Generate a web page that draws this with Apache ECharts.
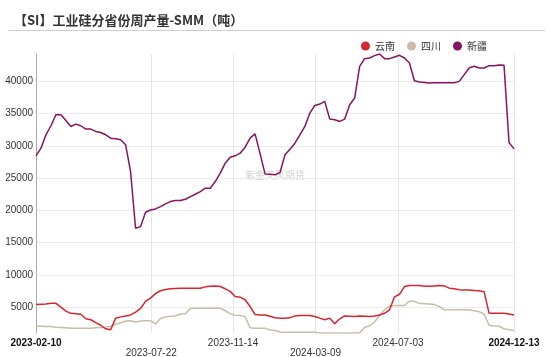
<!DOCTYPE html>
<html>
<head>
<meta charset="utf-8">
<script src="https://cdn.jsdelivr.net/npm/echarts@6/dist/echarts.min.js"></script>
<style>
html,body{margin:0;padding:0;background:#fff;}
#chart{width:550px;height:357px;}
</style>
</head>
<body>
<div id="chart"></div>
<script>
// Weekly data, first week 2023-02-10, last week 2024-12-13 (97 weeks)
var startDate = '2023-02-10';
var weekCount = 97;
var tickLabels = ['2023-02-10','2023-07-22','2023-11-14','2024-03-09','2024-07-03','2024-12-13'];
var seriesNames = ['云南','四川','新疆'];

var yunnan = [5400,5450,5500,5600,5600,5000,4400,4050,4000,3900,
  3200,3050,2600,2200,1650,1500,3300,3500,3650,3800,
  4250,4800,5900,6400,7100,7550,7750,7850,7900,7950,
  7950,7950,7950,7950,8150,8250,8300,8200,7850,7450,
  6650,6550,6150,5100,3850,3800,3800,3600,3350,3300,
  3300,3350,3650,3700,3700,3700,3550,3300,3050,3300,
  2450,3200,3650,3600,3550,3650,3600,3550,3650,3800,
  4050,4600,6600,7000,8200,8350,8350,8350,8250,8250,
  8300,8350,8300,7950,7850,7700,7650,7650,7600,7550,
  7400,4050,4050,4050,4050,3950,3800];

var sichuan = [2100,2050,2000,2000,1900,1850,1800,1750,1750,1750,
  1750,1750,1800,1850,1950,2000,2350,2600,2850,2900,
  2700,2850,2900,2900,2400,3250,3500,3600,3650,3950,
  4000,4800,4850,4850,4850,4850,4850,4850,4450,4000,
  3750,3700,3550,1800,1750,1750,1750,1450,1400,1150,
  1100,1100,1100,1100,1100,1100,1100,1000,1000,1000,
  1000,1000,1000,1000,1000,1000,1900,2100,2700,3700,
  4600,5150,5250,5250,5250,5950,5900,5600,5550,5500,
  5400,5100,4600,4600,4600,4600,4600,4600,4450,4300,
  3900,2200,2100,2050,1650,1500,1400];

var xinjiang = [28460,29650,31720,33120,34820,34820,33940,33010,33370,33120,
  32600,32600,32240,32080,31720,31200,31100,30940,30170,26000,
  17230,17490,19710,20070,20230,20590,21010,21370,21520,21520,
  21730,22140,22500,22920,23440,23440,24470,25770,27320,28250,
  28460,28870,29800,31200,31870,28800,25660,25600,25510,25870,
  28610,29490,30420,31720,33010,35080,36270,36480,36890,34150,
  34050,33790,34150,36380,37410,42330,43520,43620,43990,44240,
  43520,43520,43780,44040,43620,42850,40100,39900,39840,39740,
  39790,39790,39790,39790,39790,40000,41040,42070,42330,42070,
  42070,42430,42430,42540,42480,30530,29540];

var colors = ['#d7262e', '#cbbca8', '#861462'];

function parseDay(s){ var p = s.split('-'); return Date.UTC(+p[0], +p[1]-1, +p[2]); }
function fmtDay(t){
  var d = new Date(t);
  var m = d.getUTCMonth()+1, dd = d.getUTCDate();
  return d.getUTCFullYear() + '-' + (m<10?'0':'') + m + '-' + (dd<10?'0':'') + dd;
}
var t0 = parseDay(startDate);
var dates = [];
for (var i = 0; i < weekCount; i++) dates.push(t0 + i*7*86400000);
var tickValues = tickLabels.map(parseDay);

function pairs(arr){ return arr.map(function(v,i){ return [dates[i], v]; }); }
var allSeries = [yunnan, sichuan, xinjiang];

var chart = echarts.init(document.getElementById('chart'), null, {renderer:'canvas'});
chart.setOption({
  animation: false,
  color: colors,
  textStyle: {fontFamily: 'Liberation Sans, Arial, sans-serif'},
  title: {
    text: '【SI】工业硅分省份周产量-SMM（吨）',
    left: 9, top: 9,
    textStyle: {fontFamily: 'Noto Sans CJK SC', fontSize: 13, fontWeight: 'bold', color: '#333'}
  },
  graphic: [
    {type:'line', shape:{x1:8, y1:30.5, x2:545, y2:30.5}, style:{stroke:'#cfcfcf', lineWidth:1}, silent:true},
    {type:'text', left: 245, top: 170, style:{text:'紫金天风期货', fill:'rgba(160,160,160,0.45)', font:'10px "Noto Sans CJK SC"'}, silent:true, z:0}
  ],
  legend: {
    data: seriesNames,
    right: 58, top: 36,
    icon: 'circle', itemWidth: 9, itemHeight: 9, itemGap: 12,
    textStyle: {fontFamily: 'Noto Sans CJK SC', fontSize: 10, color: '#333'}
  },
  grid: {left: 36, right: 36, top: 54, bottom: 24, containLabel: false, outerBoundsMode: 'none'},
  xAxis: {
    type: 'value',
    min: dates[0], max: dates[dates.length-1],
    axisLine: {show: false},
    axisTick: {show: false, customValues: tickValues},
    splitLine: {show: true, showMinLine: false, lineStyle: {color: '#e6e6e6'}},
    axisLabel: {
      customValues: tickValues,
      hideOverlap: false,
      showMinLabel: true, showMaxLabel: true,
      margin: 5,
      formatter: function(val){
        var s = fmtDay(val);
        var idx = tickValues.indexOf(val);
        if (idx === 0 || idx === tickValues.length-1) return '{b|' + s + '}';
        if (idx % 2 === 1) return '{n|}\n{n|' + s + '}';
        return '{n|' + s + '}';
      },
      rich: {
        b: {fontSize: 10, fontWeight: 'bold', color: '#111', lineHeight: 10, fontFamily: 'Liberation Sans, Arial'},
        n: {fontSize: 10, color: '#333', lineHeight: 10, fontFamily: 'Liberation Sans, Arial'}
      }
    }
  },
  yAxis: {
    type: 'value',
    min: 'dataMin', max: 'dataMax',
    splitNumber: 8,
    axisLine: {show: true, lineStyle: {color: '#aaa'}},
    axisTick: {show: false},
    splitLine: {show: true, showMinLine: false, showMaxLine: false, lineStyle: {color: '#ececec'}},
    axisLabel: {
      showMinLabel: false, showMaxLabel: false, margin: 3, fontSize: 10, color: '#333',
      formatter: function(v){ return String(v); }
    }
  },
  series: seriesNames.map(function(n, k){
    return {
      name: n, type: 'line', data: pairs(allSeries[k]),
      showSymbol: false, symbol: 'none',
      lineStyle: {width: 1.5},
      z: k === 2 ? 3 : (k === 0 ? 4 : 2)
    };
  })
});
</script>
</body>
</html>
